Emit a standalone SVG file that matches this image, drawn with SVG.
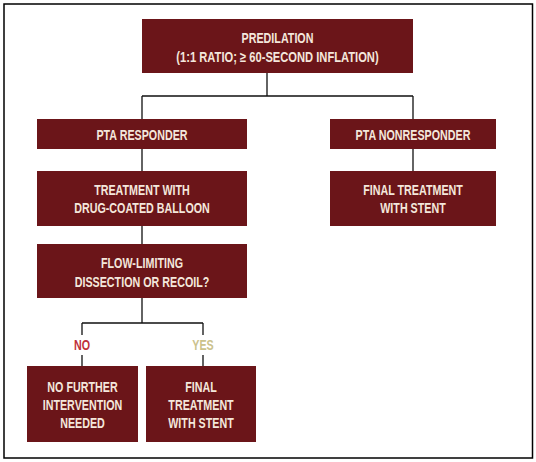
<svg xmlns="http://www.w3.org/2000/svg" width="536" height="462" viewBox="0 0 536 462">
<style>
.box{fill:#6b1519}
.t{font-family:"Liberation Sans",Arial,sans-serif;font-weight:bold;font-size:14.5px;fill:#f4e7dc;text-anchor:middle}
.lbl{font-family:"Liberation Sans",Arial,sans-serif;font-weight:bold;font-size:14.5px;text-anchor:middle}
.c{stroke:#111;stroke-width:1.3;fill:none}
</style>
<rect x="0" y="0" width="536" height="462" fill="#fff"/>
<rect x="4" y="4" width="528.5" height="454" fill="none" stroke="#000" stroke-width="1.5"/>
<g id="connectors">
<path class="c" d="M267,73V96M142,96H413M142,96V119M413,96V119"/>
<path class="c" d="M142,149V171M142,226V244M142,298V323M82,323H203M82,323V335M203,323V335"/>
<path class="c" d="M82,355V366M203,355V366"/>
<path class="c" d="M413,149V171"/>
</g>
<g id="predilation">
<rect class="box" x="142" y="19" width="271" height="54"/>
<text class="t" transform="translate(277.5,43) scale(0.74,1)">PREDILATION</text>
<text class="t" transform="translate(277.5,62) scale(0.77,1)">(1:1 RATIO; ≥ 60-SECOND INFLATION)</text>
</g>
<g id="pta-responder">
<rect class="box" x="37" y="119" width="210" height="30"/>
<text class="t" transform="translate(142,140) scale(0.74,1)">PTA RESPONDER</text>
</g>
<g id="dcb">
<rect class="box" x="37" y="171" width="210" height="55"/>
<text class="t" transform="translate(142,195) scale(0.74,1)">TREATMENT WITH</text>
<text class="t" transform="translate(142,213) scale(0.74,1)">DRUG-COATED BALLOON</text>
</g>
<g id="flow">
<rect class="box" x="37" y="244" width="210" height="54"/>
<text class="t" transform="translate(142,268) scale(0.74,1)">FLOW-LIMITING</text>
<text class="t" transform="translate(142,287) scale(0.74,1)">DISSECTION OR RECOIL?</text>
</g>
<g id="pta-nonresponder">
<rect class="box" x="330" y="119" width="166" height="30"/>
<text class="t" transform="translate(413,140) scale(0.74,1)">PTA NONRESPONDER</text>
</g>
<g id="final-right">
<rect class="box" x="330" y="171" width="166" height="55"/>
<text class="t" transform="translate(413,195) scale(0.74,1)">FINAL TREATMENT</text>
<text class="t" transform="translate(413,213) scale(0.74,1)">WITH STENT</text>
</g>
<g id="no-label"><text class="lbl" fill="#c0313b" transform="translate(82,350) scale(0.74,1)">NO</text></g>
<g id="yes-label"><text class="lbl" fill="#cbc28c" transform="translate(203,350) scale(0.74,1)">YES</text></g>
<g id="no-further">
<rect class="box" x="27" y="366" width="111" height="76"/>
<text class="t" transform="translate(82.5,392) scale(0.74,1)">NO FURTHER</text>
<text class="t" transform="translate(82.5,410) scale(0.74,1)">INTERVENTION</text>
<text class="t" transform="translate(82.5,428) scale(0.74,1)">NEEDED</text>
</g>
<g id="final-left">
<rect class="box" x="146" y="366" width="110" height="76"/>
<text class="t" transform="translate(201,392) scale(0.74,1)">FINAL</text>
<text class="t" transform="translate(201,410) scale(0.74,1)">TREATMENT</text>
<text class="t" transform="translate(201,428) scale(0.74,1)">WITH STENT</text>
</g>
</svg>
